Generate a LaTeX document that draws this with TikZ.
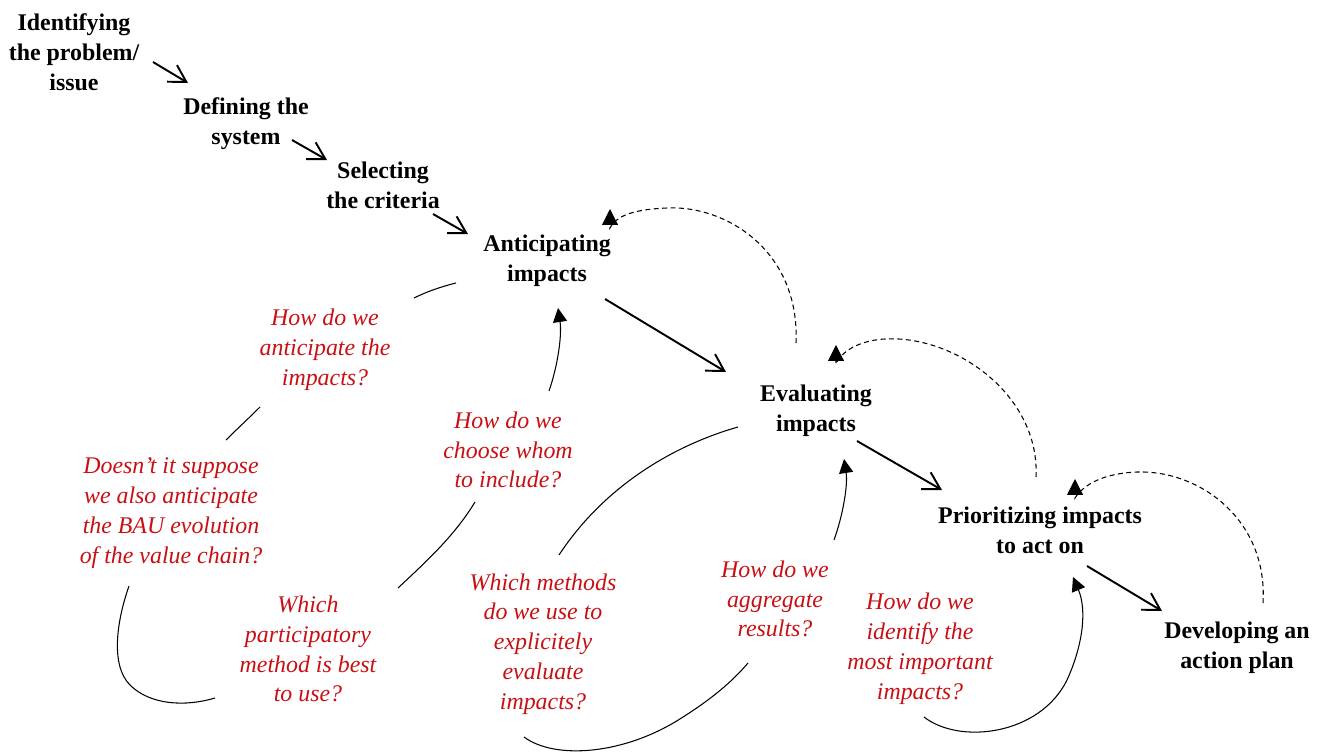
\documentclass[tikz,border=0pt]{standalone}
\usepackage{fontspec}
\setmainfont{Liberation Serif}
\usetikzlibrary{arrows.meta}
\definecolor{qred}{RGB}{200,16,20}
\begin{document}
\begin{tikzpicture}[x=0.02cm,y=-0.02cm,
  stage/.style={font=\bfseries\fontsize{13.6pt}{17pt}\selectfont,align=center,inner sep=0pt},
  quest/.style={font=\itshape\fontsize{13.6pt}{17pt}\selectfont,text=qred,align=center,inner sep=0pt},
  flow/.style={line width=1.1pt,-{Straight Barb[length=9.5pt,width=11pt]}},
  fb/.style={line width=0.6pt,dash pattern=on 2.8pt off 2pt,-{Triangle[length=9pt,width=9pt,sep=0pt]}},
  qline/.style={line width=0.6pt},
  qarrow/.style={line width=0.6pt,-{Triangle[length=8pt,width=8pt]}}]
\useasboundingbox (0,0) rectangle (1325,753);
% stages
\node[stage] (ident) at (74,52) {Identifying\\the problem/\\issue};
\node[stage] (define) at (246,124) {Defining the\\system};
\node[stage] (select) at (383,185) {Selecting\\the criteria};
\node[stage] (antic) at (547,261) {Anticipating\\impacts};
\node[stage] (eval) at (816,411) {Evaluating\\impacts};
\node[stage] (prior) at (1040,530) {Prioritizing impacts\\to act on};
\node[stage] (devel) at (1237,648) {Developing an\\action plan};
% questions
\node[quest] (qa) at (325,350) {How do we\\anticipate the\\impacts?};
\node[quest] (qb) at (171,513) {Doesn’t it suppose\\we also anticipate\\the BAU evolution\\of the value chain?};
\node[quest] (qc) at (308,649) {Which\\participatory\\method is best\\to use?};
\node[quest] (qd) at (508,450) {How do we\\choose whom\\to include?};
\node[quest] (qe) at (543,644) {Which methods\\do we use to\\explicitely\\evaluate\\impacts?};
\node[quest] (qf) at (775,599) {How do we\\aggregate\\results?};
\node[quest] (qg) at (920,649) {How do we\\identify the\\most important\\impacts?};
% connector end points
\coordinate (f1a) at (153,62);  \coordinate (f1b) at (188,83);
\coordinate (f2a) at (292,140); \coordinate (f2b) at (327,160);
\coordinate (f3a) at (433,214); \coordinate (f3b) at (468,234);
\coordinate (f4a) at (605,299); \coordinate (f4b) at (726,372);
\coordinate (f5a) at (857,441); \coordinate (f5b) at (942,490);
\coordinate (f6a) at (1087,566); \coordinate (f6b) at (1162,611);
% main flow
\draw[flow] (f1a) -- (f1b);
\draw[flow] (f2a) -- (f2b);
\draw[flow] (f3a) -- (f3b);
\draw[flow] (f4a) -- (f4b);
\draw[flow] (f5a) -- (f5b);
\draw[flow] (f6a) -- (f6b);
% feedback loops
\coordinate (d1a) at (796,343); \coordinate (d1b) at (610,228); \coordinate (d1t) at (610,209);
\coordinate (d2a) at (1036,477); \coordinate (d2b) at (836,364); \coordinate (d2t) at (836,345);
\coordinate (d3a) at (1263,603); \coordinate (d3b) at (1075,498); \coordinate (d3t) at (1075,479);
\draw[fb] (d1a) .. controls (800,250) and (725,205) .. (667,208)
          .. controls (645,209) and (618,212) .. (d1b) -- (d1t);
\draw[fb] (d2a) .. controls (1040,395) and (955,335) .. (885,339)
          .. controls (865,340) and (843,348) .. (d2b) -- (d2t);
\draw[fb] (d3a) .. controls (1268,520) and (1200,470) .. (1137,472)
          .. controls (1110,473) and (1086,481) .. (d3b) -- (d3t);
% question chain to Anticipating
\coordinate (a1a) at (456,283); \coordinate (a1b) at (414,298);
\coordinate (a2a) at (260,407); \coordinate (a2b) at (226,440);
\coordinate (a3a) at (129,586); \coordinate (a3b) at (215,698);
\coordinate (a4a) at (398,588); \coordinate (a4b) at (475,502);
\coordinate (a5a) at (549,391); \coordinate (a5b) at (558,308);
\draw[qline] (a1a) .. controls (440,287) and (426,292) .. (a1b);
\draw[qline] (a2a) .. controls (248,419) and (237,429) .. (a2b);
\draw[qline] (a3a) .. controls (117,620) and (110,665) .. (130,685)
             .. controls (150,705) and (185,707) .. (a3b);
\draw[qline] (a4a) .. controls (428,560) and (455,535) .. (a4b);
\draw[qarrow] (a5a) .. controls (558,365) and (562,335) .. (a5b);
% question chain to Evaluating
\coordinate (e1a) at (738,427); \coordinate (e1b) at (559,555);
\coordinate (e2a) at (524,737); \coordinate (e2b) at (748,663);
\coordinate (e3a) at (834,540); \coordinate (e3b) at (844,459);
\draw[qline] (e1a) .. controls (675,445) and (605,485) .. (e1b);
\draw[qline] (e2a) .. controls (555,760) and (625,755) .. (683,717)
             .. controls (710,700) and (732,682) .. (e2b);
\draw[qarrow] (e3a) .. controls (843,515) and (848,485) .. (e3b);
% question chain to Prioritizing
\coordinate (p1a) at (924,717); \coordinate (p1b) at (1073,577);
\draw[qarrow] (p1a) .. controls (960,745) and (1040,735) .. (1067,680)
              .. controls (1083,645) and (1087,610) .. (p1b);
\end{tikzpicture}
\end{document}
